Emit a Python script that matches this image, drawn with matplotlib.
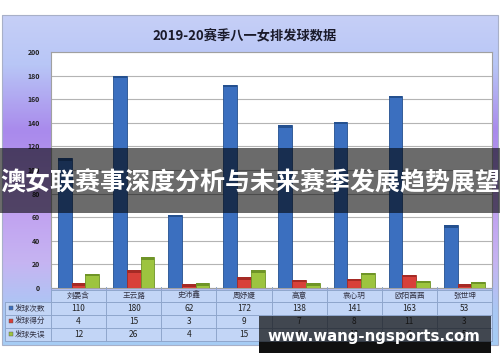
import numpy as np
import matplotlib.pyplot as plt
from matplotlib.colors import LinearSegmentedColormap
from matplotlib.patches import Rectangle

plt.rcParams['font.family'] = ['Noto Sans CJK SC', 'DejaVu Sans']

players = ['刘晏含', '王云蕗', '史沛鑫', '周妤婕', '高意', '袁心玥', '欧阳茜茜', '张世坤']
series = ['发球次数', '发球得分', '发球失误']
serves = [110, 180, 62, 172, 138, 141, 163, 53]
aces = [4, 15, 3, 9, 7, 8, 11, 3]
errors = [12, 26, 4, 15, 4, 13, 6, 5]
colors = ['#3b6fbf', '#d8403a', '#9dc43f']
edges = ['#24508f', '#a52a25', '#6f9427']

title = '2019-20赛季八一女排发球数据'
banner = '澳女联赛事深度分析与未来赛季发展趋势展望'
site = 'www.wang-ngsports.com'

W, H = 500, 362
fig = plt.figure(figsize=(5, 3.62), dpi=100)

# background gradient of the chart frame
bg = fig.add_axes([0, 0, 1, 1], zorder=0)
bg.set_xlim(0, W)
bg.set_ylim(H, 0)
bg.axis('off')
cmap = LinearSegmentedColormap.from_list('bg', [
    (0.0, '#c6cff7'), (0.15, '#b8c6f6'), (0.35, '#a98aec'),
    (0.55, '#bf9cf0'), (0.75, '#c6b4f2'), (0.9, '#a9c8f4'), (1.0, '#a6cdf5')])
grad = np.linspace(0, 1, 256).reshape(-1, 1)
bg.imshow(grad, cmap=cmap, aspect='auto', extent=(2, 498, 345, 15))
bg.add_patch(Rectangle((2, 15), 496, 330, fill=False, ec='#a8b0c8', lw=0.8))
bg.text(245, 36, title, ha='center', va='center', fontsize=9.5,
        fontweight='bold', color='#1a1a2a')

# plot area
left, right, top, bottom = 51, 492, 52, 288
ax = fig.add_axes([left / W, 1 - bottom / H, (right - left) / W, (bottom - top) / H], zorder=1)
ax.set_facecolor('white')
x = np.arange(len(players))
for k, vals in enumerate([serves, aces, errors]):
    ax.bar(x + 0.25 * (k + 1), vals, width=0.25, color=colors[k],
           edgecolor=edges[k], linewidth=0.6, zorder=3)
    ax.bar(x + 0.25 * (k + 1), 2, bottom=np.array(vals) - 2, width=0.25,
           color=edges[k], linewidth=0, zorder=4)
ax.set_xlim(0, len(players))
ax.set_ylim(0, 200)
ax.set_yticks(range(0, 201, 20))
ax.set_xticks([])
ax.tick_params(axis='y', length=0, pad=8, labelsize=5, colors='#222222')
for lbl in ax.get_yticklabels():
    lbl.set_fontweight('bold')
ax.grid(axis='y', color='#b4b4b4', lw=0.8, zorder=0)
for s in ax.spines.values():
    s.set_color('#a0a0a0')
    s.set_linewidth(0.8)

# data table + overlays
ov = fig.add_axes([0, 0, 1, 1], zorder=2)
ov.set_xlim(0, W)
ov.set_ylim(H, 0)
ov.axis('off')
cw = (right - left) / len(players)
rows_y = [290, 302, 315, 328, 341]
ov.add_patch(Rectangle((left, rows_y[0]), right - left, rows_y[1] - rows_y[0],
                       fc='#c2d5f6', ec='#8fa6cc', lw=0.7))
ov.add_patch(Rectangle((5, rows_y[1]), right - 5, rows_y[-1] - rows_y[1],
                       fc='#c2d5f6', ec='#8fa6cc', lw=0.7))
for r in rows_y[1:-1]:
    ov.plot([5, right], [r, r], color='#8fa6cc', lw=0.7)
for i in range(len(players) + 1):
    ov.plot([left + i * cw] * 2, [rows_y[0] - 3, rows_y[-1]], color='#8fa6cc', lw=0.7)
for i, name in enumerate(players):
    ov.text(left + (i + 0.5) * cw, (rows_y[0] + rows_y[1]) / 2, name, ha='center',
            va='center', fontsize=5.5, color='#333344')
for j, (name, vals) in enumerate(zip(series, [serves, aces, errors])):
    yc = (rows_y[j + 1] + rows_y[j + 2]) / 2
    ov.add_patch(Rectangle((9, yc - 2.5), 4, 4, fc=colors[j], ec='#555555', lw=0.3))
    ov.text(15, yc, name, ha='left', va='center', fontsize=5.5, color='#333344')
    for i, v in enumerate(vals):
        ov.text(left + (i + 0.5) * cw, yc, str(v), ha='center', va='center',
                fontsize=6, color='#222222')

# overlay banners
ov.add_patch(Rectangle((0, 148), W, 65, fc='black', alpha=0.58, lw=0, zorder=5))
ov.text(W / 2, 183, banner, ha='center', va='center', fontsize=18,
        fontweight='bold', color='white', zorder=6)
ov.add_patch(Rectangle((259, 316), 232, 26, fc='#101010', alpha=0.72, lw=0, zorder=5))
ov.add_patch(Rectangle((259, 342), 232, 11, fc='#101010', lw=0, zorder=5))
ov.text(374, 336, site, ha='center', va='center', fontsize=10.8,
        fontweight='bold', color='white', family=['DejaVu Sans'], zorder=6)

fig.savefig('out.png', dpi=100)
